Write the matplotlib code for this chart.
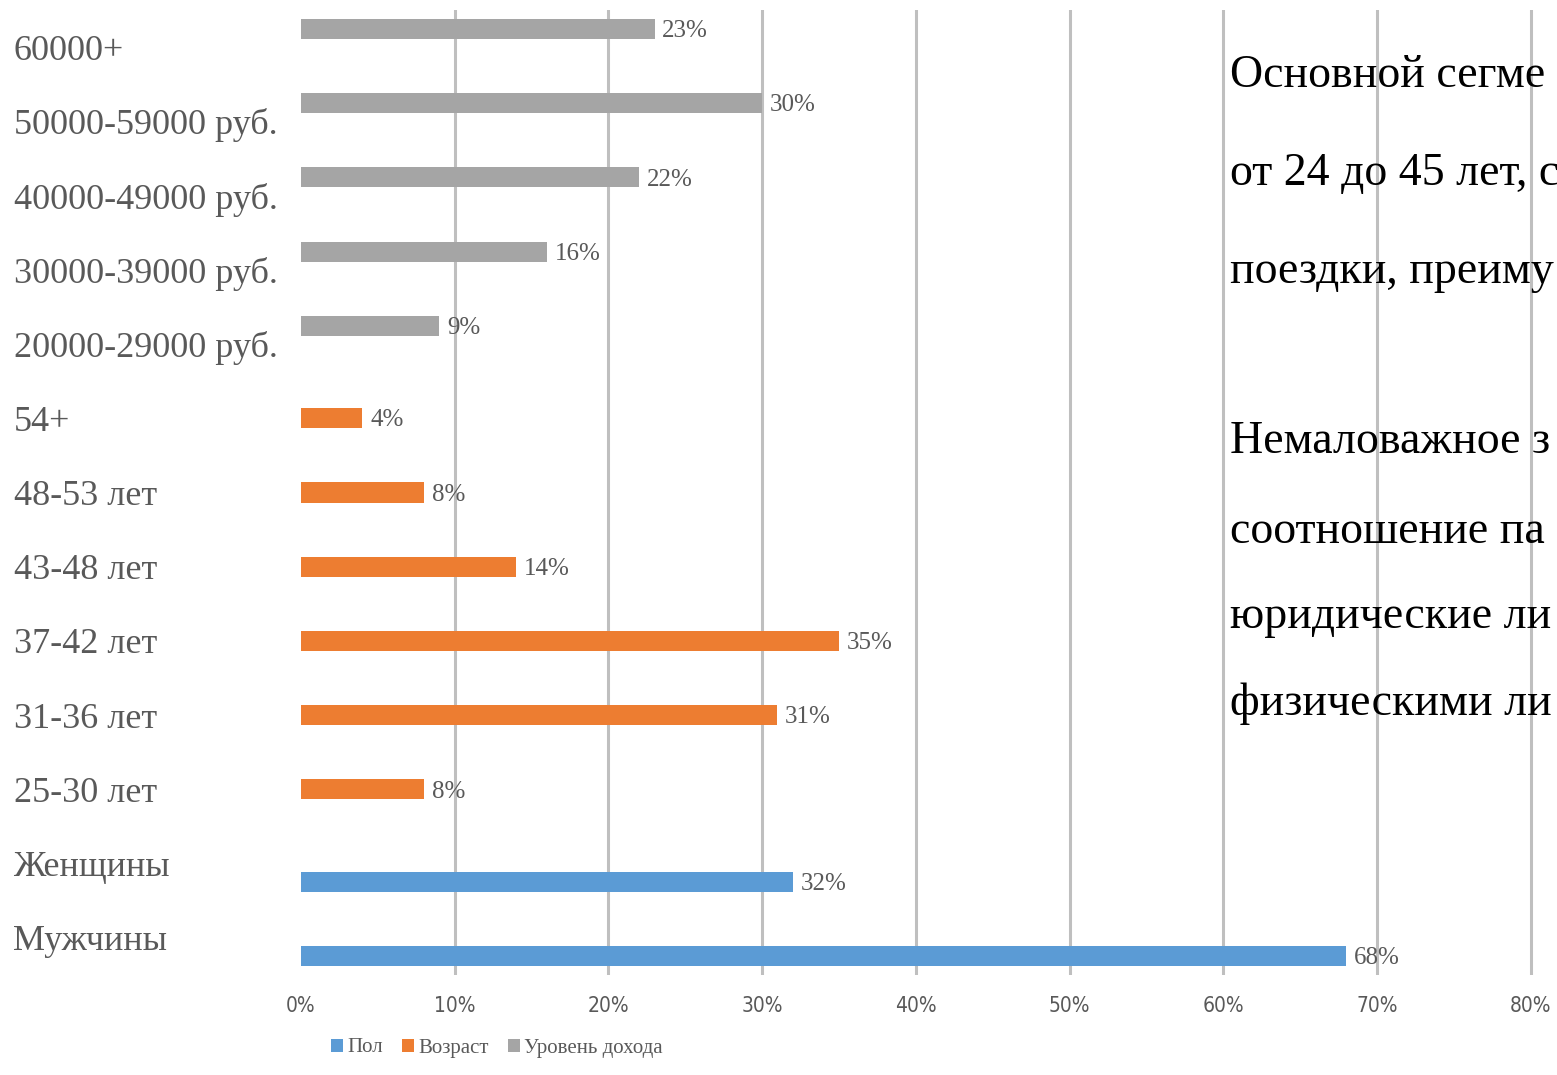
import matplotlib
matplotlib.use('Agg')
import numpy as np
import matplotlib.pyplot as plt
from matplotlib.patches import Patch

categories = ['Мужчины', 'Женщины', '25-30 лет', '31-36 лет', '37-42 лет', '43-48 лет', '48-53 лет', '54+',
              '20000-29000 руб.', '30000-39000 руб.', '40000-49000 руб.', '50000-59000 руб.', '60000+']
gender = [68, 32, 0, 0, 0, 0, 0, 0, 0, 0, 0, 0, 0]
age = [0, 0, 8, 31, 35, 14, 8, 4, 0, 0, 0, 0, 0]
income = [0, 0, 0, 0, 0, 0, 0, 0, 9, 16, 22, 30, 23]
series_names = ['Пол', 'Возраст', 'Уровень дохода']
colors = ['#5B9BD5', '#ED7D31', '#A5A5A5']
x_ticks = [0, 10, 20, 30, 40, 50, 60, 70, 80]

# text beside the chart, only the part visible in the picture
side_lines = ['Основной сегме', 'от 24 до 45 лет, с', 'поездки, преиму',
              'Немаловажное з', 'соотношение па', 'юридические ли', 'физическими ли']
side_baselines = [87, 185, 283, 453, 543, 628, 715]

grey = '#595959'
serif = ['Liberation Serif', 'DejaVu Serif']

fig = plt.figure(figsize=(15.57, 10.75), dpi=100)
ax = fig.add_axes([301 / 1557, 100 / 1075, 1245 / 1557, 965 / 1075])

y = np.arange(len(categories))
h = 0.27
off = 0.245
for vals, shift, col, name in zip([gender, age, income], [-off, 0, off], colors, series_names):
    bars = ax.barh(y + shift, vals, height=h, color=col, label=name, zorder=3)
    for b, v in zip(bars, vals):
        if v > 0:
            ax.text(v + 0.5, b.get_y() + b.get_height() / 2 - 0.03, '{}%'.format(v),
                    va='center', ha='left', fontsize=18, color=grey, family=serif, zorder=4)

ax.set_xlim(0, 81)
ax.set_ylim(-0.5, len(categories) - 0.5)
ax.set_xticks(x_ticks)
ax.set_xticklabels(['{}%'.format(t) for t in x_ticks], fontsize=15, color=grey,
                   family='DejaVu Sans', fontstretch='condensed')
ax.set_yticks(y)
ax.set_yticklabels(categories, fontsize=26, color=grey, family=serif)
for lab in ax.get_yticklabels():
    lab.set_horizontalalignment('left')
ax.tick_params(axis='y', length=0, pad=207)
ax.tick_params(axis='x', length=0, pad=15)

ax.grid(axis='x', color='#BFBFBF', linewidth=2.2, zorder=1)
ax.get_xgridlines()[0].set_visible(False)
for s in ax.spines.values():
    s.set_visible(False)

handles = [Patch(facecolor=c, label=n) for c, n in zip(colors, series_names)]
fig.legend(handles=handles, loc='center', bbox_to_anchor=(497 / 1557, 1 - 1048 / 1075), ncol=3,
           frameon=False, handlelength=0.6, handleheight=0.6, handletextpad=0.2, columnspacing=0.9,
           prop={'family': serif, 'size': 15}, labelcolor=grey)

for line, yb in zip(side_lines, side_baselines):
    fig.text(1230 / 1557, 1 - yb / 1075, line, fontsize=33, family=serif, color='black', va='baseline')

fig.savefig('out.png', dpi=100)
